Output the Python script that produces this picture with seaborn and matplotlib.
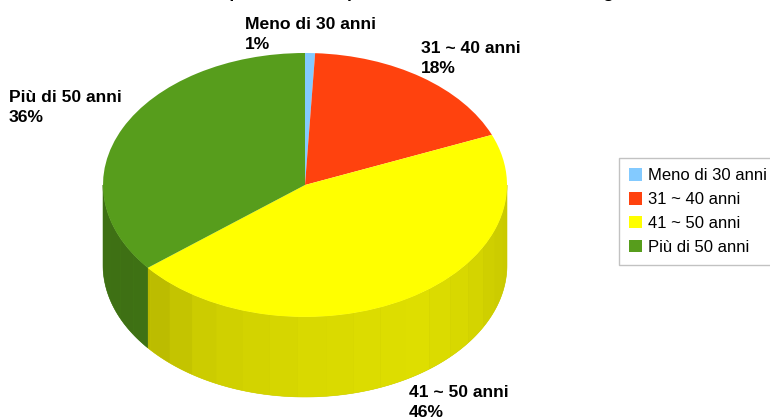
import numpy as np
import matplotlib
matplotlib.use("Agg")
import matplotlib.pyplot as plt
import seaborn as sns

categories = ["Meno di 30 anni", "31 ~ 40 anni", "41 ~ 50 anni", "Più di 50 anni"]
shares = [0.8, 18.0, 45.4, 35.8]
percent_labels = ["1%", "18%", "46%", "36%"]
colours = ["#83caff", "#ff420e", "#ffff00", "#579d1c"]
title_text = "Età del personale del plesso scolastico nel nostro registro"

W, H = 770, 419
CX, CY, RX, RY, DEPTH = 305, 185, 202, 132, 80

sns.set_theme(style="white")
plt.rcParams["font.family"] = ["Liberation Sans", "DejaVu Sans"]
plt.rcParams["text.color"] = "black"
palette = sns.color_palette(colours)

fig = plt.figure(figsize=(W / 100, H / 100), dpi=100, facecolor="white")
ax = fig.add_axes([0, 0, 1, 1])

wedges, _ = ax.pie(shares, colors=palette, startangle=90, counterclock=False,
                   radius=1, wedgeprops=dict(linewidth=0, antialiased=True, zorder=5))
ax.set_aspect("auto")
ax.set_xlim((0 - CX) / RX, (W - CX) / RX)
ax.set_ylim((CY - H) / RY, (CY - 0) / RY)
ax.axis("off")

# side wall of the cylinder: only the front half (180..360 degrees) is visible
d = DEPTH / RY
ends = 90 - np.cumsum([0] + shares) * 3.6
facet = np.deg2rad(np.arange(180, 361, 8.0))


def wall(a, b, colour, z):
    t = np.linspace(a, b, max(12, int(np.degrees(b - a))))
    x, y = np.cos(t), np.sin(t)
    ax.fill(np.r_[x, x[::-1]], np.r_[y, y[::-1] - d], facecolor=colour,
            edgecolor=colour if z == 3 else "none", lw=0.4 if z == 3 else 0, zorder=z)


for start, end, col in zip(ends[:-1], ends[1:], palette):
    for shift in (0, 360, 720):
        lo = max(np.deg2rad(end + shift), np.pi)
        hi = min(np.deg2rad(start + shift), 2 * np.pi)
        if hi <= lo:
            continue
        stops = np.r_[lo, facet[(facet > lo) & (facet < hi)], hi]
        wall(lo, hi, tuple(v * 0.80 for v in col), 3)
        for a, b in zip(stops[:-1], stops[1:]):
            px = CX + RX * np.cos((a + b) / 2)
            shade = np.interp(px, [103, 148, 200, 305, 420, 470, 507],
                              [0.71, 0.72, 0.80, 0.85, 0.87, 0.84, 0.79])
            wall(a, b, tuple(v * shade for v in col), 4)

for name, pct, px, py in zip(categories, percent_labels,
                             [245, 421, 409, 9], [17, 41, 385, 90]):
    ax.text((px - CX) / RX, (CY - py) / RY, f"{name}\n{pct}", fontsize=12.6,
            fontweight="bold", color="black", va="top", ha="left",
            linespacing=1.42, zorder=8)

# the title sits almost wholly above the canvas, only its descenders show
ax.text((167 - CX) / RX, (CY + 2.5) / RY, title_text, fontsize=12.6, fontweight="bold",
        ha="left", va="baseline", color="black", clip_on=False, zorder=8)

leg = ax.legend(wedges, categories, loc="upper left",
                bbox_to_anchor=(619 / W, 1 - 158 / H), bbox_transform=fig.transFigure,
                frameon=True, fancybox=False, fontsize=12, handlelength=0.8,
                handleheight=0.8, handletextpad=0.36, labelspacing=0.52,
                borderpad=0.6, borderaxespad=0, labelcolor="black")
leg.get_frame().set_edgecolor("#b3b3b3")
leg.get_frame().set_linewidth(1.0)
leg.set_zorder(9)

fig.savefig("out.png", dpi=100, facecolor="white")
